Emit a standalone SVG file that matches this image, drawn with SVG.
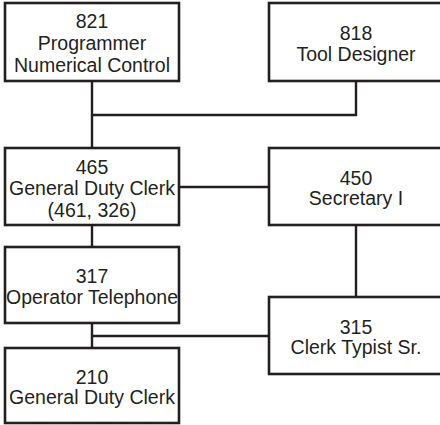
<svg xmlns="http://www.w3.org/2000/svg" width="440" height="425" viewBox="0 0 440 425">
<style>
.box{fill:#fff;stroke:#231f20;stroke-width:2.6}
.ln{fill:none;stroke:#231f20;stroke-width:2.4}
text{font-family:"Liberation Sans",Arial,Helvetica,sans-serif;font-size:19.5px;fill:#231f20;text-anchor:middle}
</style>
<rect width="440" height="425" fill="#fff"/>
<g id="connectors">
<path class="ln" d="M92 81V148M92 115H356V81"/>
<path class="ln" d="M179 187H269"/>
<path class="ln" d="M92 225V247"/>
<path class="ln" d="M356 225V297"/>
<path class="ln" d="M92 323V348M92 336H269"/>
</g>
<g id="n821"><rect class="box" x="5" y="3" width="174" height="78"/>
<text x="92" y="28">821</text><text x="92" y="50">Programmer</text><text x="92" y="72">Numerical Control</text></g>
<g id="n818"><rect class="box" x="269" y="3" width="175" height="78"/>
<text x="356" y="40">818</text><text x="356" y="61">Tool Designer</text></g>
<g id="n465"><rect class="box" x="5" y="148" width="174" height="77"/>
<text x="92" y="173.5">465</text><text x="92" y="195">General Duty Clerk</text><text x="92" y="216.5">(461, 326)</text></g>
<g id="n450"><rect class="box" x="269" y="148" width="175" height="77"/>
<text x="356" y="185">450</text><text x="356" y="205">Secretary I</text></g>
<g id="n317"><rect class="box" x="5" y="247" width="174" height="76"/>
<text x="92" y="283">317</text><text x="92" y="303.5">Operator Telephone</text></g>
<g id="n315"><rect class="box" x="269" y="297" width="175" height="77"/>
<text x="356" y="333.5">315</text><text x="356" y="354">Clerk Typist Sr.</text></g>
<g id="n210"><rect class="box" x="5" y="348" width="174" height="75"/>
<text x="92" y="383.5">210</text><text x="92" y="403.5">General Duty Clerk</text></g>
</svg>
